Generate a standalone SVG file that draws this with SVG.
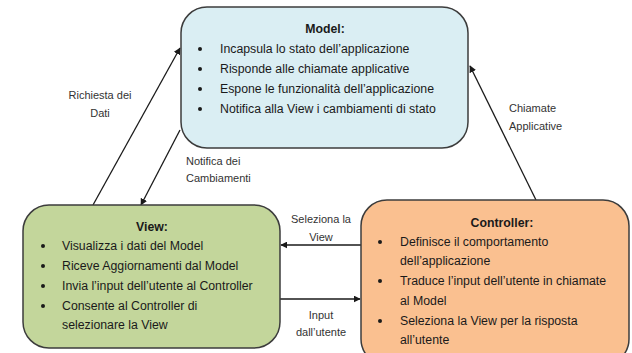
<svg xmlns="http://www.w3.org/2000/svg" width="632" height="353" viewBox="0 0 632 353">
  <style>
    .box { stroke: #3c3c3c; stroke-width: 1.5; }
    .t { font-family: "Liberation Sans", Arial, sans-serif; font-size: 12.3px; fill: #1a1a1a; }
    .title { font-weight: bold; text-anchor: middle; }
    .lbl { font-family: "Liberation Sans", Arial, sans-serif; font-size: 11px; fill: #333; }
    .mid { text-anchor: middle; }
    .conn { stroke: #1a1a1a; stroke-width: 1.3; fill: none; marker-end: url(#arrow); }
    .dot { fill: #1a1a1a; }
  </style>
  <defs>
    <marker id="arrow" viewBox="0 0 10 10" refX="9" refY="5" markerWidth="7" markerHeight="7" markerUnits="userSpaceOnUse" orient="auto">
      <path d="M0,0 L10,5 L0,10 z" fill="#1a1a1a"/>
    </marker>
  </defs>
  <rect width="632" height="353" fill="#ffffff"/>

  <!-- connectors -->
  <g id="connectors">
    <line class="conn" x1="93" y1="205" x2="180" y2="48"/>
    <line class="conn" x1="180" y1="130" x2="141" y2="205"/>
    <line class="conn" x1="536" y1="200" x2="470" y2="66"/>
    <line class="conn" x1="361" y1="245" x2="281" y2="245"/>
    <line class="conn" x1="280" y1="299" x2="360" y2="299"/>
    <g id="connector-labels">
      <text class="lbl mid" x="100" y="99">Richiesta dei</text>
      <text class="lbl mid" x="100" y="117">Dati</text>
      <text class="lbl" x="186" y="165">Notifica dei</text>
      <text class="lbl" x="186" y="182">Cambiamenti</text>
      <text class="lbl" x="509" y="112">Chiamate</text>
      <text class="lbl" x="509" y="130">Applicative</text>
      <text class="lbl mid" x="321" y="223">Seleziona la</text>
      <text class="lbl mid" x="321" y="241">View</text>
      <text class="lbl mid" x="321" y="319">Input</text>
      <text class="lbl mid" x="321" y="336">dall’utente</text>
    </g>
  </g>

  <!-- Model -->
  <g id="model">
    <rect class="box" x="181" y="7" width="287" height="141" rx="26" fill="#daeef3"/>
    <text class="t title" x="325" y="33">Model:</text>
    <circle class="dot" cx="200" cy="49" r="2"/>
    <circle class="dot" cx="200" cy="69" r="2"/>
    <circle class="dot" cx="200" cy="89" r="2"/>
    <circle class="dot" cx="200" cy="109" r="2"/>
    <text class="t" x="220" y="53">Incapsula lo stato dell’applicazione</text>
    <text class="t" x="220" y="73">Risponde alle chiamate applicative</text>
    <text class="t" x="220" y="93">Espone le funzionalità dell’applicazione</text>
    <text class="t" x="220" y="113">Notifica alla View i cambiamenti di stato</text>
  </g>

  <!-- View -->
  <g id="view">
    <rect class="box" x="23" y="205" width="257" height="143" rx="26" fill="#c3d69b"/>
    <text class="t title" x="152" y="231">View:</text>
    <circle class="dot" cx="43" cy="246" r="2"/>
    <circle class="dot" cx="43" cy="266" r="2"/>
    <circle class="dot" cx="43" cy="286" r="2"/>
    <circle class="dot" cx="43" cy="306" r="2"/>
    <text class="t" x="62" y="250">Visualizza i dati del Model</text>
    <text class="t" x="62" y="270">Riceve Aggiornamenti dal Model</text>
    <text class="t" x="62" y="290">Invia l’input dell’utente al Controller</text>
    <text class="t" x="62" y="310">Consente al Controller di</text>
    <text class="t" x="62" y="329">selezionare la View</text>
  </g>

  <!-- Controller -->
  <g id="controller">
    <rect class="box" x="361" y="200" width="268" height="165" rx="26" fill="#fac090"/>
    <text class="t title" x="502" y="227">Controller:</text>
    <circle class="dot" cx="380" cy="242" r="2"/>
    <circle class="dot" cx="380" cy="281" r="2"/>
    <circle class="dot" cx="380" cy="321" r="2"/>
    <text class="t" x="400" y="246">Definisce il comportamento</text>
    <text class="t" x="400" y="265">dell’applicazione</text>
    <text class="t" x="400" y="285">Traduce l’input dell’utente in chiamate</text>
    <text class="t" x="400" y="305">al Model</text>
    <text class="t" x="400" y="325">Seleziona la View per la risposta</text>
    <text class="t" x="400" y="344">all’utente</text>
  </g>
</svg>
